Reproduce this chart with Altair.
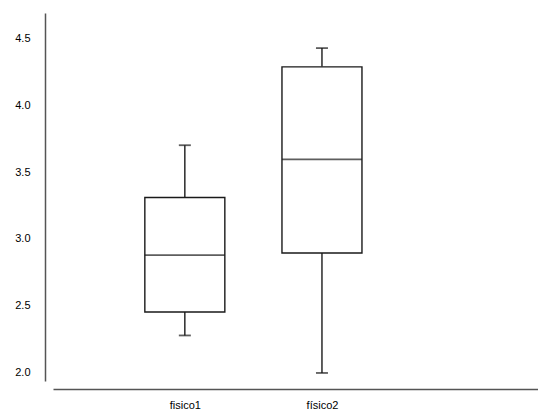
import altair as alt
import pandas as pd

groups = ["fisico1", "físico2"]
lower = [2.28, 2.0]
q1 = [2.455, 2.895]
median = [2.88, 3.595]
q3 = [3.31, 4.285]
upper = [3.70, 4.425]

df = pd.DataFrame({"idx": list(range(len(groups))), "g": groups, "lo": lower, "q1": q1,
                   "med": median, "q3": q3, "hi": upper})

label_expr = " : ".join(
    [f"datum.value == {i} ? '{g}'" for i, g in enumerate(groups)]) + " : ''"

x = alt.X("idx:Q", title=None,
          scale=alt.Scale(domain=[-0.925, 2.539], nice=False, zero=False),
          axis=alt.Axis(values=list(range(len(groups))), labelExpr=label_expr, ticks=False,
                        grid=False, domainColor="#555555", domainWidth=1.5, offset=8,
                        labelFont="Liberation Sans", labelFontSize=11, labelColor="#000000",
                        labelPadding=10))
yscale = alt.Scale(domain=[1.94, 4.687], nice=False, zero=False)
y_axis = alt.Axis(values=[2.0, 2.5, 3.0, 3.5, 4.0, 4.5], format=".1f", ticks=False, grid=False,
                  domainColor="#555555", domainWidth=1.5, offset=8, labelFont="Liberation Sans",
                  labelFontSize=11, labelColor="#000000", labelPadding=15)

base = alt.Chart(df)
stroke = "#1a1a1a"
sw = 1.4

whisk_low = base.mark_rule(color=stroke, strokeWidth=sw).encode(
    x=x, y=alt.Y("lo:Q", scale=yscale, axis=y_axis, title=None), y2="q1:Q")
whisk_high = base.mark_rule(color=stroke, strokeWidth=sw).encode(
    x=x, y=alt.Y("q3:Q", scale=yscale), y2="hi:Q")
box = base.mark_bar(size=80, fill="white", stroke=stroke, strokeWidth=sw).encode(
    x=x, y=alt.Y("q1:Q", scale=yscale), y2="q3:Q")
med = base.mark_tick(size=80, thickness=1.8, color=stroke, orient="horizontal").encode(
    x=x, y=alt.Y("med:Q", scale=yscale))
cap_lo = base.mark_tick(size=12, thickness=1.8, color=stroke, orient="horizontal").encode(
    x=x, y=alt.Y("lo:Q", scale=yscale))
cap_hi = base.mark_tick(size=12, thickness=1.8, color=stroke, orient="horizontal").encode(
    x=x, y=alt.Y("hi:Q", scale=yscale))

chart = alt.layer(whisk_low, whisk_high, box, med, cap_lo, cap_hi).properties(
    width=485, height=368, padding={"left": 14, "top": 13, "right": 0, "bottom": 0},
    background="white"
).configure_view(stroke=None)

chart.save("out.html", embed_options={"renderer": "svg", "actions": False})
